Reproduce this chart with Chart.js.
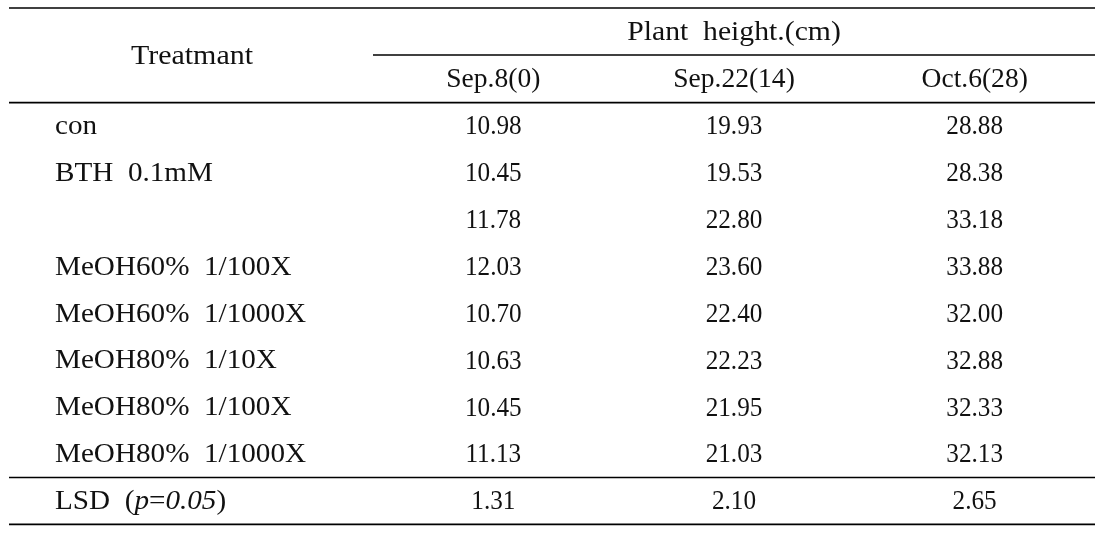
<!DOCTYPE html>
<html>
<head>
<meta charset="utf-8">
<script src="https://cdn.jsdelivr.net/npm/chart.js@4/dist/chart.umd.min.js"></script>
<style>
  html, body { margin: 0; padding: 0; background: #fff; }
  canvas { display: block; }
</style>
</head>
<body>
<canvas id="tableChart" width="1112" height="539"></canvas>
<script>
// ===== DATA =====
const columns = ["Sep.8(0)", "Sep.22(14)", "Oct.6(28)"];
const treatments = [
    "con",
    "BTH  0.1mM",
    "",
    "MeOH60%  1/100X",
    "MeOH60%  1/1000X",
    "MeOH80%  1/10X",
    "MeOH80%  1/100X",
    "MeOH80%  1/1000X",
    "LSD"
];
const sep8 = [10.98, 10.45, 11.78, 12.03, 10.70, 10.63, 10.45, 11.13, 1.31];
const sep22 = [19.93, 19.53, 22.80, 23.60, 22.40, 22.23, 21.95, 21.03, 2.10];
const oct6 = [28.88, 28.38, 33.18, 33.88, 32.00, 32.88, 32.33, 32.13, 2.65];
const headerTitle = "Plant  height.(cm)";
const rowTitle = "Treatmant";

const series = [sep8, sep22, oct6];
const FAMILY = "'Liberation Serif', 'Times New Roman', serif";
const INK = "#111";

// draw text squeezed / stretched horizontally around its anchor
function drawText(ctx, text, x, y, align, font, sx) {
    ctx.save();
    ctx.font = font;
    ctx.textAlign = align;
    ctx.translate(x, y);
    ctx.scale(sx, 1);
    ctx.fillText(text, 0, 0);
    const w = ctx.measureText(text).width * sx;
    ctx.restore();
    return w;
}

// ===== TABLE PLUGIN =====
const tablePlugin = {
    id: "tablePlugin",
    afterDraw(chart) {
        const ctx = chart.ctx;
        const area = chart.chartArea;
        const xs = chart.scales.x;
        const ys = chart.scales.y;
        const leftEdge = 9;
        const labelX = 55;
        const reg = "27px " + FAMILY;
        const ital = "italic 27px " + FAMILY;
        const num = "28px " + FAMILY;

        ctx.save();
        ctx.fillStyle = INK;
        ctx.strokeStyle = "#000";
        ctx.lineWidth = 1.6;
        ctx.textBaseline = "middle";

        // rules
        const hline = (y, x0, x1) => {
            ctx.beginPath();
            ctx.moveTo(x0, y);
            ctx.lineTo(x1, y);
            ctx.stroke();
        };
        const sepY = (ys.getPixelForValue(7) + ys.getPixelForValue(8)) / 2;
        hline(8, leftEdge, area.right);
        hline(55, area.left, area.right);
        hline(area.top, leftEdge, area.right);
        hline(sepY, leftEdge, area.right);
        hline(area.bottom, leftEdge, area.right);

        // header
        drawText(ctx, headerTitle, (area.left + area.right) / 2, 33, "center", reg, 1.1);
        columns.forEach((c, j) => drawText(ctx, c, xs.getPixelForValue(j), 80, "center", reg, 1.02));
        drawText(ctx, rowTitle, 192, 57, "center", reg, 1.11);

        // row labels
        treatments.forEach((t, i) => {
            const y = ys.getPixelForValue(i) + 1;
            if (t === "LSD") {
                let x = labelX;
                const parts = [["LSD  (", reg], ["p", ital], ["=", reg], ["0.05", ital], [")", reg]];
                parts.forEach(([s, f]) => {
                    x += drawText(ctx, s, x, y, "left", f, 1.08);
                });
            } else {
                drawText(ctx, t, labelX, y, "left", reg, 1.08);
            }
        });

        // cells
        chart.data.datasets.forEach((ds, j) => {
            const meta = chart.getDatasetMeta(j);
            meta.data.forEach((pt, i) => {
                drawText(ctx, ds.data[i].v.toFixed(2), pt.x, pt.y + 1, "center", num, 0.9);
            });
        });
        ctx.restore();
    }
};

new Chart(document.getElementById("tableChart"), {
    type: "scatter",
    data: {
        datasets: series.map((vals, j) => ({
            label: columns[j],
            data: vals.map((v, i) => ({ x: columns[j], y: treatments[i], v: v })),
            pointRadius: 0,
            pointHoverRadius: 0
        }))
    },
    options: {
        responsive: false,
        animation: false,
        events: [],
        layout: { padding: { left: 373, right: 17, top: 102.6, bottom: 14.6 } },
        plugins: { legend: { display: false }, tooltip: { enabled: false } },
        scales: {
            x: { type: "category", labels: columns, offset: true, display: false },
            y: { type: "category", labels: treatments, offset: true, display: false }
        }
    },
    plugins: [tablePlugin]
});
</script>
</body>
</html>
